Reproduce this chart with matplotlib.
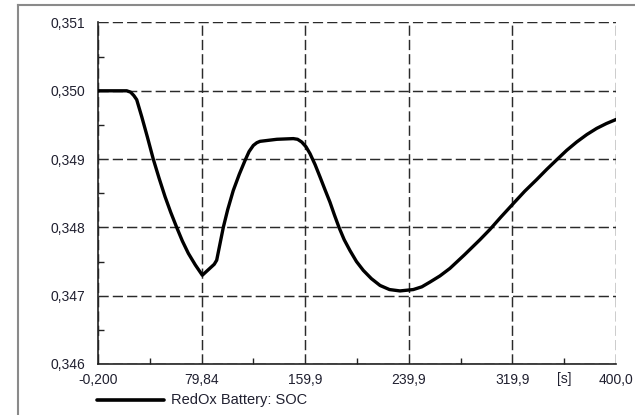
import matplotlib
matplotlib.use("Agg")
import matplotlib.pyplot as plt
from matplotlib.ticker import FixedLocator, MultipleLocator
from matplotlib.lines import Line2D

# time [s] and state of charge
time_s = [-0.2, 10.0, 22.0, 25.0, 27.5, 29.7, 33.6, 38.0, 42.5, 47.0, 51.6,
          56.0, 60.6, 65.0, 69.6, 75.0, 80.4, 85.0, 89.6, 91.5, 96.6, 100.0,
          104.3, 109.0, 113.4, 116.5, 119.8, 122.5, 125.0, 138.0, 150.7,
          154.0, 157.2, 160.5, 163.6, 167.5, 171.3, 175.0, 179.0, 182.5,
          186.0, 190.0, 194.5, 199.5, 204.8, 211.0, 217.7, 225.0, 233.1,
          243.4, 250.0, 256.3, 264.0, 271.7, 283.0, 294.9, 302.6, 311.0,
          320.7, 329.5, 338.7, 346.5, 354.2, 362.0, 369.6, 377.5, 385.1,
          392.5, 400.0]
soc = [0.35000, 0.35000, 0.35000, 0.34998, 0.34993, 0.34987, 0.34962, 0.34932,
       0.34900, 0.34872, 0.34845, 0.34822, 0.34800, 0.34780, 0.34762, 0.34745,
       0.34730, 0.34738, 0.34746, 0.34752, 0.34800, 0.34826, 0.34854, 0.34878,
       0.34898, 0.34911, 0.34920, 0.34924, 0.34926, 0.34929, 0.34930, 0.34929,
       0.34925, 0.34918, 0.34908, 0.34892, 0.34874, 0.34856, 0.34837, 0.34818,
       0.34800, 0.34782, 0.34766, 0.34750, 0.34737, 0.34725, 0.34715, 0.34709,
       0.34707, 0.34709, 0.34713, 0.34720, 0.34729, 0.34740, 0.34760, 0.34782,
       0.34797, 0.34815, 0.34835, 0.34853, 0.34870, 0.34885, 0.34899, 0.34913,
       0.34925, 0.34936, 0.34945, 0.34952, 0.34958]

x_ticks = [-0.2, 79.84, 159.9, 239.9, 319.9, 400.0]
x_labels = ["-0,200", "79,84", "159,9", "239,9", "319,9", "400,0"]
y_ticks = [0.346, 0.347, 0.348, 0.349, 0.350, 0.351]
y_labels = ["0,346", "0,347", "0,348", "0,349", "0,350", "0,351"]
series_name = "RedOx Battery: SOC"
unit_label = "[s]"

plt.rcParams["font.family"] = ["Liberation Sans", "DejaVu Sans"]
txt_color = "#202030"

fig = plt.figure(figsize=(6.35, 4.15), dpi=100)
ax = fig.add_axes([98 / 635, 1 - 364 / 415, 518 / 635, (364 - 22.5) / 415])

ax.plot(time_s, soc, color="black", lw=2.4, solid_joinstyle="round",
        solid_capstyle="round", zorder=3)

ax.set_xlim(-0.2, 400.0)
ax.set_ylim(0.346, 0.351)
ax.xaxis.set_major_locator(FixedLocator(x_ticks))
ax.set_xticklabels(x_labels)
ax.xaxis.set_minor_locator(FixedLocator(
    [(a + b) / 2 for a, b in zip(x_ticks[:-1], x_ticks[1:])]))
ax.yaxis.set_major_locator(FixedLocator(y_ticks))
ax.set_yticklabels(y_labels)
ax.yaxis.set_minor_locator(MultipleLocator(0.0005))

ax.tick_params(which="major", length=0, labelsize=10, labelcolor=txt_color)
ax.tick_params(axis="x", which="major", pad=6.5)
ax.tick_params(axis="y", which="major", pad=9.5)
ax.tick_params(which="minor", direction="in", length=4.5, width=1.0, color="#222")

ax.grid(True, which="major", color="#2a2a2a", lw=1.05, ls=(0, (7, 2.8)), zorder=1)
for side in ("top", "right"):
    ax.spines[side].set_visible(False)
for side in ("left", "bottom"):
    ax.spines[side].set_linewidth(1.2)
    ax.spines[side].set_color("#222")

ax.text(360, -0.044, unit_label, transform=ax.get_xaxis_transform(),
        ha="center", va="center", fontsize=10, color=txt_color)

# legend entry below the plot
fig.add_artist(Line2D([97 / 635, 164 / 635], [1 - 400 / 415] * 2,
                      color="black", lw=2.6, solid_capstyle="round"))
fig.text(171 / 635, 1 - 400 / 415, series_name, ha="left", va="center",
         fontsize=10.5, color=txt_color)

# outer frame (top and left edges visible)
fig.add_artist(Line2D([17.7 / 635, 1.0], [1 - 5.5 / 415] * 2, color="#8a8a8a", lw=1.5))
fig.add_artist(Line2D([17.7 / 635] * 2, [0.0, 1 - 5.5 / 415], color="#8a8a8a", lw=1.5))

fig.savefig("out.png", dpi=100)
